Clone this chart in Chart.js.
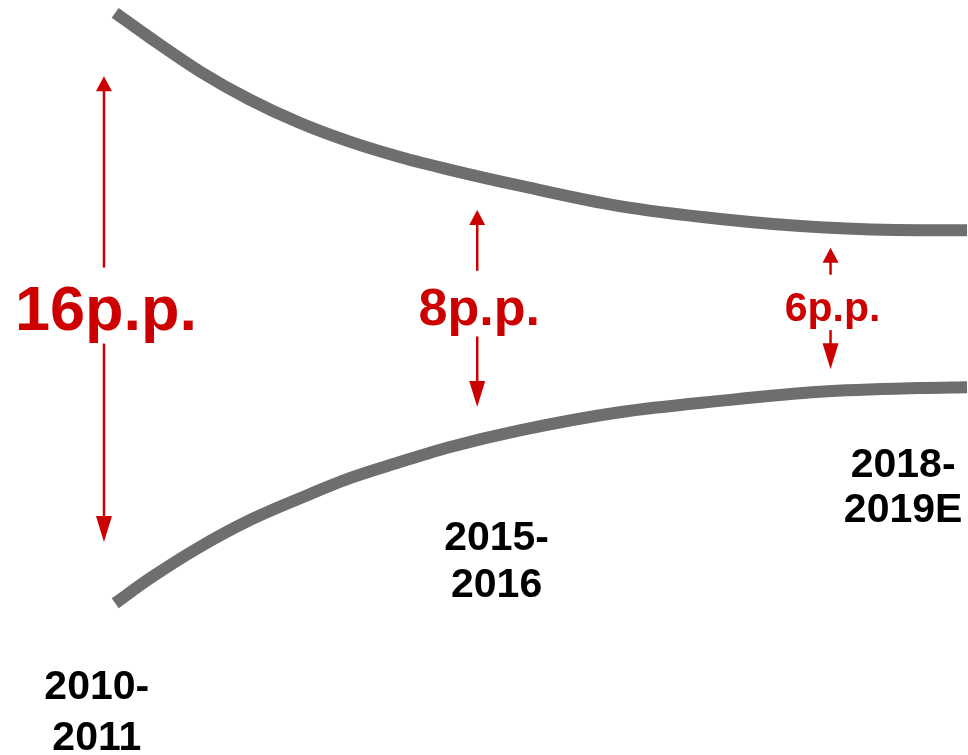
<!DOCTYPE html>
<html>
<head>
<meta charset="utf-8">
<script src="https://cdn.jsdelivr.net/npm/chart.js@4"></script>
<style>
  html, body { margin: 0; padding: 0; background: #fff; }
  #wrap { width: 968px; height: 755px; position: relative; }
</style>
</head>
<body>
<div id="wrap"><canvas id="grafico"></canvas></div>
<script>
// curve sample points (x from 0 to 100 across, y from 0 to 100 upward)
const stageX = [11.9, 15.5, 20.7, 25.8, 31.0, 36.2, 41.3, 46.5, 53.7, 64.0, 74.4, 84.7, 95.0, 99.9];
const upperCurve = [98.3, 95.0, 90.5, 86.8, 83.7, 81.2, 79.2, 77.5, 75.4, 72.7, 71.0, 69.9, 69.5, 69.5];
const lowerCurve = [20.1, 23.4, 27.6, 31.1, 34.0, 36.7, 38.8, 40.8, 43.0, 45.4, 46.9, 48.1, 48.6, 48.7];

// gap arrows between the curves
const gapLabels = ["16p.p.", "8p.p.", "6p.p."];
const gapX = [10.74, 49.3, 85.8];
const gapTop = [89.9, 72.2, 67.2];
const gapBottom = [28.2, 46.1, 51.1];

// period captions
const periodLabels = [["2010-", "2011"], ["2015-", "2016"], ["2018-", "2019E"]];
const periodX = [10.0, 51.3, 93.3];
const periodY = [7.4, 27.2, 36.8];

const red = "#cc0000";
const gray = "#6e6e6e";
const fontFamily = "'Liberation Sans', Arial, sans-serif";

const toPoints = (ys) => stageX.map((x, i) => ({ x: x, y: ys[i] }));

// arrows, gap labels and period captions
const annotations = {
  id: "annotations",
  afterDatasetsDraw(chart, args, opts) {
    const ctx = chart.ctx;
    const xs = chart.scales.x;
    const ys = chart.scales.y;
    ctx.save();

    gapLabels.forEach((label, i) => {
      const size = opts.gapFontSizes[i];
      const cap = size * 0.716;
      const x = xs.getPixelForValue(gapX[i]);
      const top = ys.getPixelForValue(gapTop[i]);
      const bottom = ys.getPixelForValue(gapBottom[i]);
      const mid = (top + bottom) / 2 - 2;
      const baseline = mid + cap / 2;
      const half = 8;

      ctx.fillStyle = red;
      ctx.strokeStyle = red;
      ctx.lineWidth = 2.5;

      // upper shaft + head
      ctx.beginPath();
      ctx.moveTo(x, top + 14);
      ctx.lineTo(x, baseline - cap - 17);
      ctx.stroke();
      ctx.beginPath();
      ctx.moveTo(x, top);
      ctx.lineTo(x - half, top + 15);
      ctx.lineTo(x + half, top + 15);
      ctx.closePath();
      ctx.fill();

      // lower shaft + head
      ctx.beginPath();
      ctx.moveTo(x, baseline + size * 0.22);
      ctx.lineTo(x, bottom - 25);
      ctx.stroke();
      ctx.beginPath();
      ctx.moveTo(x, bottom);
      ctx.lineTo(x - half, bottom - 26);
      ctx.lineTo(x + half, bottom - 26);
      ctx.closePath();
      ctx.fill();

      ctx.font = "bold " + size + "px " + fontFamily;
      ctx.textAlign = "center";
      ctx.textBaseline = "alphabetic";
      ctx.fillText(label, x + 2, baseline);
    });

    ctx.fillStyle = "#000";
    ctx.font = "bold " + opts.periodFontSize + "px " + fontFamily;
    ctx.textAlign = "center";
    ctx.textBaseline = "alphabetic";
    periodLabels.forEach((lines, i) => {
      const x = xs.getPixelForValue(periodX[i]);
      const y = ys.getPixelForValue(periodY[i]);
      lines.forEach((line, j) => {
        ctx.fillText(line, x, y + j * opts.periodLineHeights[i]);
      });
    });

    ctx.restore();
  }
};

const ctx = document.getElementById("grafico").getContext("2d");
const chart = new Chart(ctx, {
  type: "line",
  data: {
    datasets: [
      {
        label: "upper",
        data: toPoints(upperCurve),
        borderColor: gray,
        borderWidth: 12,
        borderCapStyle: "butt",
        cubicInterpolationMode: "monotone",
        pointRadius: 0,
        fill: false,
        clip: false
      },
      {
        label: "lower",
        data: toPoints(lowerCurve),
        borderColor: gray,
        borderWidth: 12,
        borderCapStyle: "butt",
        cubicInterpolationMode: "monotone",
        pointRadius: 0,
        fill: false,
        clip: false
      }
    ]
  },
  options: {
    responsive: true,
    maintainAspectRatio: false,
    animation: false,
    layout: { padding: 0 },
    plugins: {
      legend: { display: false },
      tooltip: { enabled: false },
      annotations: {
        gapFontSizes: [63, 52, 41],
        periodFontSize: 41,
        periodLineHeights: [51, 47, 45]
      }
    },
    scales: {
      x: { type: "linear", min: 0, max: 100, display: false },
      y: { type: "linear", min: 0, max: 100, display: false }
    }
  },
  plugins: [annotations]
});
</script>
</body>
</html>
